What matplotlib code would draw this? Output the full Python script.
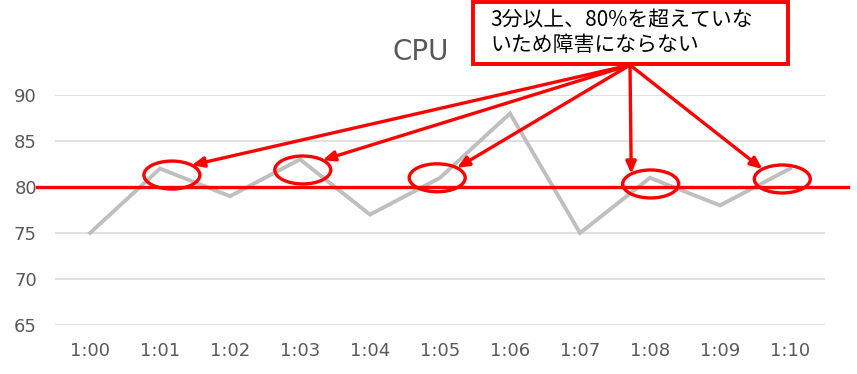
import numpy as np
import matplotlib
matplotlib.use("Agg")
import matplotlib.pyplot as plt
from matplotlib.patches import Ellipse, Rectangle
from matplotlib.transforms import blended_transform_factory

plt.rcParams['font.family'] = ['DejaVu Sans', 'Noto Sans CJK JP']

# データ
times = ["1:00", "1:01", "1:02", "1:03", "1:04", "1:05", "1:06", "1:07", "1:08", "1:09", "1:10"]
cpu = [75, 82, 79, 83, 77, 81, 88, 75, 81, 78, 82]
threshold = 80
highlight = [1, 3, 5, 8, 10]
note = "3分以上、80%を超えていな\nいため障害にならない"

# 楕円の位置調整（点からのずれ）と矢印の当たる角度
ell_dx = [0.17, 0.04, -0.04, 0.01, -0.11]
ell_dy = [-0.7, -1.15, 0.0, -0.67, -1.13]
tip_deg = [45, 45, 45, 134, 135]

fig = plt.figure(figsize=(8.57, 3.74), dpi=100)
ax = fig.add_axes([55 / 857, 1 - 325 / 374, 770 / 857, 230 / 374])

x = np.arange(len(times))
ax.plot(x, cpu, color="#BFBFBF", lw=2.8, solid_joinstyle="miter", zorder=2)

ax.set_xlim(-0.5, len(times) - 0.5)
ax.set_ylim(65, 90)
ax.set_yticks([65, 70, 75, 80, 85, 90])
ax.set_xticks(x)
ax.set_xticklabels(times)
ax.grid(axis="y", color="#D9D9D9", lw=1.1)
ax.set_axisbelow(True)
for s in ax.spines.values():
    s.set_visible(False)
ax.tick_params(length=0, labelsize=13, labelcolor="#595959")
ax.tick_params(axis="y", pad=13)
ax.tick_params(axis="x", pad=12)

fig.text(421 / 857, 1 - 52 / 374, "CPU", fontsize=20, color="#595959",
         ha="center", va="center")

# 80%のライン
tr = blended_transform_factory(fig.transFigure, ax.transData)
ax.plot([37 / 857, 848 / 857], [threshold, threshold], color="#FF0000", lw=2.4,
        transform=tr, clip_on=False, zorder=4)

# 楕円と矢印
ew, eh = 0.8, 3.04
src = (630 / 857, 1 - 65 / 374)
for i, dx, dy, deg in zip(highlight, ell_dx, ell_dy, tip_deg):
    cx, cy = i + dx, cpu[i] + dy
    ax.add_patch(Ellipse((cx, cy), ew, eh, fill=False, ec="#FF0000", lw=2.4,
                         clip_on=False, zorder=5))
    t = np.deg2rad(deg)
    tip = (cx + ew / 2 * np.cos(t), cy + eh / 2 * np.sin(t))
    ax.annotate("", xy=tip, xycoords="data", xytext=src, textcoords="figure fraction",
                arrowprops=dict(arrowstyle="-|>,head_length=0.7,head_width=0.3",
                                color="#FF0000", lw=2.4, shrinkA=0, shrinkB=0),
                annotation_clip=False, zorder=6)

# コメント枠
fig.patches.append(Rectangle((473 / 857, 1 - 64 / 374), 315 / 857, 62 / 374,
                             transform=fig.transFigure, fc="white", ec="#FF0000",
                             lw=2.8, zorder=7))
fig.text(490 / 857, 1 - 33 / 374, note, fontsize=15, color="black",
         ha="left", va="center", linespacing=1.15, zorder=8,
         family=['Noto Sans CJK JP', 'DejaVu Sans'])

fig.savefig("out.png", dpi=100)
